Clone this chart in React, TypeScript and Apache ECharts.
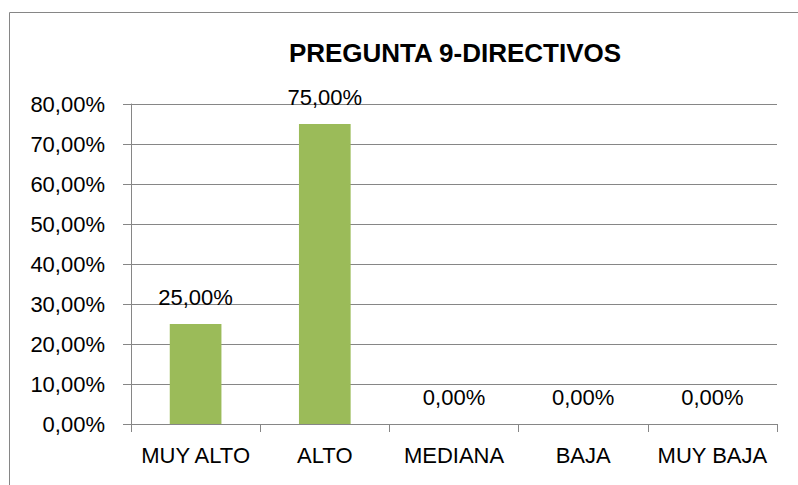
import React, { useEffect, useRef } from "react";
import * as echarts from "echarts";

const titleText = "PREGUNTA 9-DIRECTIVOS";
const categories = ["MUY ALTO", "ALTO", "MEDIANA", "BAJA", "MUY BAJA"];
const values = [25, 75, 0, 0, 0];
const yMin = 0;
const yMax = 80;
const yInterval = 10;

const fmt = (v: number) => v.toFixed(2).replace(".", ",") + "%";

export default function App() {
  const ref = useRef<HTMLDivElement>(null);
  useEffect(() => {
    if (!ref.current) return;
    const chart = echarts.init(ref.current, null, { renderer: "svg" });
    const font = "'Liberation Sans', Arial, sans-serif";
    const gray = "#868686";
    chart.setOption({
      animation: false,
      backgroundColor: "#ffffff",
      textStyle: { fontFamily: font },
      title: {
        text: titleText,
        left: 450,
        top: 35,
        textAlign: "center",
        textStyle: { fontFamily: font, fontWeight: "bold", fontSize: 26, color: "#000" },
      },
      graphic: [
        {
          type: "rect",
          shape: { x: 9.5, y: 12.5, width: 820, height: 520 },
          style: { fill: "none", stroke: gray, lineWidth: 1 },
          silent: true,
          z: -1,
        },
      ],
      grid: { left: 131, right: 21, top: 104, bottom: 61 },
      xAxis: {
        type: "category",
        data: categories,
        axisLine: { show: true, lineStyle: { color: gray, width: 1 } },
        axisTick: { show: true, length: 8, lineStyle: { color: gray } },
        axisLabel: { color: "#000", fontSize: 22, fontFamily: font, margin: 20, interval: 0 },
        splitLine: { show: false },
      },
      yAxis: {
        type: "value",
        min: yMin,
        max: yMax,
        interval: yInterval,
        axisLine: { show: true, lineStyle: { color: gray, width: 1 } },
        axisTick: { show: true, length: 8, lineStyle: { color: gray } },
        axisLabel: {
          color: "#000",
          fontSize: 22,
          fontFamily: font,
          margin: 26,
          formatter: (v: number) => fmt(v),
        },
        splitLine: { show: true, lineStyle: { color: gray, width: 1 } },
      },
      series: [
        {
          type: "bar",
          data: values,
          barWidth: "40%",
          itemStyle: { color: "#9BBB59" },
          label: {
            show: true,
            position: "top",
            distance: 16,
            color: "#000",
            fontSize: 22,
            fontFamily: font,
            formatter: (p: any) => fmt(p.value),
          },
        },
      ],
    });
    return () => chart.dispose();
  }, []);
  return <div ref={ref} style={{ width: 798, height: 485, position: "absolute", left: 0, top: 0 }} />;
}
